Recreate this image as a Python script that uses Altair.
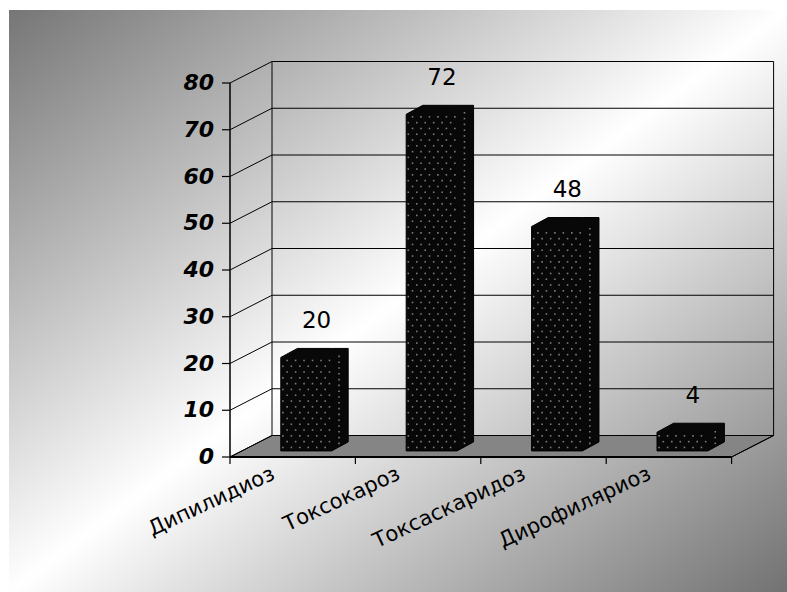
import altair as alt
import pandas as pd

# ---------------- data ----------------
categories = ["Дипилидиоз", "Токсокароз", "Токсаскаридоз", "Дирофиляриоз"]
values = [20, 72, 48, 4]
y_ticks = [0, 10, 20, 30, 40, 50, 60, 70, 80]

# ---------------- layout (pseudo-3D geometry) ----------------
W, H = 778, 582
PAD_L, PAD_T = 9, 10
UX = 125.4      # px per category
VY = 4.675      # px per value unit
OX, OY = 221, 447   # front origin inside view (px)
x_dom = [-OX / UX, (W - OX) / UX]
y_dom = [-(H - OY) / VY, OY / VY]
WDX, WDY = 42 / UX, 21.5 / VY      # wall depth offset
BL, BR = 0.405, 0.81               # bar front face inside category
BDX, BDY = 16.6 / UX, 9 / VY       # bar depth offset
BASE = 1.3
N = len(categories)
YMAX = max(y_ticks)

xs = alt.Scale(domain=x_dom, nice=False, zero=False)
ys = alt.Scale(domain=y_dom, nice=False, zero=False)
FONT = "DejaVu Sans"

# background gradient panel
bg = alt.Chart(pd.DataFrame({"a": [0]})).mark_rect(
    fill=alt.LinearGradient(
        gradient="linear",
        stops=[alt.GradientStop(color="#767676", offset=0),
               alt.GradientStop(color="#ffffff", offset=0.5),
               alt.GradientStop(color="#727272", offset=1)],
        x1=0, y1=0, x2=1, y2=1),
).encode(x=alt.value(0), x2=alt.value(W), y=alt.value(0), y2=alt.value(H))

# floor
floor_df = pd.DataFrame([
    dict(x=0, lo=0, hi=0),
    dict(x=WDX, lo=0, hi=WDY),
    dict(x=N, lo=0, hi=WDY),
    dict(x=N + WDX, lo=WDY, hi=WDY),
])
floor = alt.Chart(floor_df).mark_area(
    orient="vertical", color="#858585", stroke="black", strokeWidth=1
).encode(
    x=alt.X("x:Q", scale=xs, axis=None),
    y=alt.Y("lo:Q", scale=ys, axis=None),
    y2="hi:Q",
)

# wall lines, axis, ticks
seg = []
for v in y_ticks:
    seg.append(dict(x=WDX, x2=N + WDX, y=v + WDY, y2=v + WDY, w=1))
    seg.append(dict(x=0, x2=WDX, y=v, y2=v + WDY, w=1))
    seg.append(dict(x=-8 / UX, x2=0, y=v, y2=v, w=1.2))
seg.append(dict(x=WDX, x2=WDX, y=WDY, y2=YMAX + WDY, w=1))
seg.append(dict(x=N + WDX, x2=N + WDX, y=WDY, y2=YMAX + WDY, w=1))
seg.append(dict(x=0, x2=0, y=0, y2=YMAX, w=1.5))
seg.append(dict(x=N, x2=N + WDX, y=0, y2=WDY, w=1))
for i in range(N + 1):
    seg.append(dict(x=i, x2=i, y=0, y2=-7 / VY, w=1.2))
seg_df = pd.DataFrame(seg)
rules = alt.Chart(seg_df).mark_rule(color="black").encode(
    x=alt.X("x:Q", scale=xs, axis=None), x2="x2:Q",
    y=alt.Y("y:Q", scale=ys, axis=None), y2="y2:Q",
    strokeWidth=alt.StrokeWidth("w:Q", scale=None),
)
front_edge = alt.Chart(pd.DataFrame([dict(x=0, x2=N, y=0, y2=0)])).mark_rule(
    color="black", strokeWidth=2
).encode(
    x=alt.X("x:Q", scale=xs, axis=None), x2="x2:Q",
    y=alt.Y("y:Q", scale=ys, axis=None), y2="y2:Q",
)

# bars (hexagonal silhouettes of boxes)
rows = []
dots = []
for i, (c, v) in enumerate(zip(categories, values)):
    x0, x1 = i + BL, i + BR
    b, t = BASE, v + BASE
    rows += [
        dict(cat=c, x=x0, lo=b, hi=t),
        dict(cat=c, x=x0 + BDX, lo=b, hi=t + BDY),
        dict(cat=c, x=x1, lo=b, hi=t + BDY),
        dict(cat=c, x=x1 + BDX, lo=b + BDY, hi=t + BDY),
    ]
    # dotted fill pattern
    ncol = 6
    step_y = 5.8 / VY
    r = 0
    yy = b + step_y * 0.6
    while yy < t - step_y * 0.3:
        off = 0.5 if r % 2 else 0.0
        for k in range(ncol):
            xx = x0 + (k + 0.25 + off) * (BR - BL) / ncol
            if xx < x1 - 0.01:
                dots.append(dict(x=xx, y=yy))
        dots.append(dict(x=x1 + BDX * 0.45, y=yy + BDY * 0.45))
        yy += step_y
        r += 1
bars_df = pd.DataFrame(rows)
bars = alt.Chart(bars_df).mark_area(
    orient="vertical", color="#080808", stroke="black", strokeWidth=1
).encode(
    x=alt.X("x:Q", scale=xs, axis=None),
    y=alt.Y("lo:Q", scale=ys, axis=None),
    y2="hi:Q",
    detail="cat:N",
)
dots_layer = alt.Chart(pd.DataFrame(dots)).mark_square(
    size=2.5, color="#8a8a8a", opacity=0.9
).encode(
    x=alt.X("x:Q", scale=xs, axis=None),
    y=alt.Y("y:Q", scale=ys, axis=None),
)

# value labels
lab_df = pd.DataFrame({
    "x": [i + 0.69 for i in range(N)],
    "y": [v + BASE + BDY + 5.9 for v in values],
    "t": [str(v) for v in values],
})
val_labels = alt.Chart(lab_df).mark_text(
    font=FONT, fontSize=23, color="black", align="center", baseline="middle"
).encode(
    x=alt.X("x:Q", scale=xs, axis=None),
    y=alt.Y("y:Q", scale=ys, axis=None),
    text="t:N",
)

# y tick labels
yt_df = pd.DataFrame({"x": [-16 / UX] * len(y_ticks), "y": y_ticks,
                      "t": [str(v) for v in y_ticks]})
ytl = alt.Chart(yt_df).mark_text(
    font=FONT, fontSize=22, fontWeight="bold", fontStyle="italic",
    color="black", align="right", baseline="middle"
).encode(
    x=alt.X("x:Q", scale=xs, axis=None),
    y=alt.Y("y:Q", scale=ys, axis=None),
    text="t:N",
)

# category labels
cat_df = pd.DataFrame({"x": [i + 0.5 - 0.19 for i in range(N)],
                       "y": [-6 / VY] * N, "t": categories})
catl = alt.Chart(cat_df).mark_text(
    font=FONT, fontSize=21, color="black", align="right", baseline="top",
    angle=335
).encode(
    x=alt.X("x:Q", scale=xs, axis=None),
    y=alt.Y("y:Q", scale=ys, axis=None),
    text="t:N",
)

chart = alt.layer(
    bg, floor, rules, front_edge, bars, dots_layer, val_labels, ytl, catl
).properties(
    width=W, height=H,
    padding={"left": PAD_L, "top": PAD_T, "right": 0, "bottom": 0},
    autosize="none",
    background="white",
).configure_view(strokeWidth=0)

chart.save("out.html", embed_options={"renderer": "svg", "actions": False})
